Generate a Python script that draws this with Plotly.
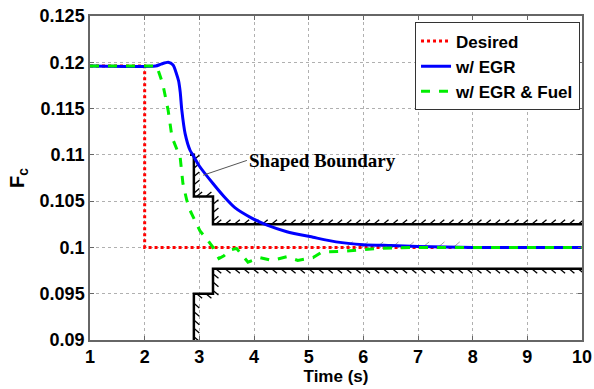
import plotly.graph_objects as go

# ---- data ----
desired_x = [1, 2, 2, 10]
desired_y = [0.1196, 0.1196, 0.1, 0.1]

egr_x = [1, 2.2, 2.3, 2.43, 2.52, 2.58, 2.62, 2.65, 2.68, 2.74, 2.83, 2.88, 3.0, 3.25, 3.45, 3.65, 3.95, 4.24, 4.6, 5.08, 5.5, 6.0, 6.5, 7.0, 7.5, 8.0, 10]
egr_y = [0.1196, 0.1196, 0.1198, 0.1200, 0.1197, 0.1188, 0.1180, 0.1168, 0.1148, 0.1123, 0.1105, 0.1100, 0.1088, 0.1069, 0.1055, 0.1043, 0.1032, 0.1024, 0.1017, 0.1011, 0.1006, 0.1003, 0.1002, 0.1001, 0.10005, 0.1, 0.1]

fuel_x = [1, 2.22, 2.33, 2.43, 2.5, 2.55, 2.6, 2.65, 2.70, 2.77, 2.83, 2.95, 3.01, 3.15, 3.25, 3.36, 3.45, 3.56, 3.68, 3.89, 4.11, 4.33, 4.6, 4.8, 5.08, 5.24, 5.7, 6.3, 7.0, 10]
fuel_y = [0.1196, 0.1196, 0.1177, 0.1148, 0.1119, 0.1112, 0.1106, 0.1097, 0.1069, 0.1051, 0.1040, 0.1026, 0.1018, 0.1008, 0.1000, 0.0988, 0.0991, 0.0997, 0.0999, 0.0984, 0.0989, 0.0986, 0.0990, 0.0986, 0.0989, 0.0995, 0.0996, 0.0999, 0.1, 0.1]

upper_x = [2.83, 2.9, 2.9, 3.25, 3.25, 10]
upper_y = [0.110, 0.110, 0.1055, 0.1055, 0.1025, 0.1025]
lower_x = [2.9, 2.9, 3.25, 3.25, 10]
lower_y = [0.09, 0.095, 0.095, 0.0977, 0.0977]

tol_x = [5.6, 7.7]
tol_y = [0.1, 0.1]

y_ticks = [0.09, 0.095, 0.1, 0.105, 0.11, 0.115, 0.12, 0.125]
y_tick_labels = ["0.09", "0.095", "0.1", "0.105", "0.11", "0.115", "0.12", "0.125"]
x_ticks = [1, 2, 3, 4, 5, 6, 7, 8, 9, 10]

# ---- hatch helpers ----
def hatch_h(x0, x1, y, step, dx, dy):
    xs, ys = [], []
    x = x0 + step * 0.3
    while x < x1 - 0.02:
        xs += [x, x + dx, None]
        ys += [y, y + dy, None]
        x += step
    return xs, ys

def hatch_v(x, y0, y1, step, dx, dy):
    xs, ys = [], []
    lo, hi = min(y0, y1), max(y0, y1)
    y = lo + step * 0.4
    while y < hi - step * 0.2:
        xs += [x, x + dx, None]
        ys += [y, y + dy, None]
        y += step
    return xs, ys

hx, hy = [], []
for i in range(len(upper_x) - 1):
    xa, xb, ya, yb = upper_x[i], upper_x[i + 1], upper_y[i], upper_y[i + 1]
    if ya == yb:
        a, b = hatch_h(xa, xb, ya, 0.17, 0.1, 0.0005)
    else:
        a, b = hatch_v(xa, ya, yb, 0.0009, 0.1, 0.0005)
    hx += a; hy += b
for i in range(len(lower_x) - 1):
    xa, xb, ya, yb = lower_x[i], lower_x[i + 1], lower_y[i], lower_y[i + 1]
    if ya == yb:
        a, b = hatch_h(xa, xb, ya, 0.17, 0.1, -0.0005)
    else:
        a, b = hatch_v(xa, ya, yb, 0.0009, 0.1, -0.0005)
    hx += a; hy += b

tx, ty = hatch_h(tol_x[0], tol_x[1], tol_y[0], 0.28, 0.12, 0.0006)

fig = go.Figure()
fig.add_trace(go.Scatter(x=hx, y=hy, mode="lines", line=dict(color="black", width=1.3),
                         showlegend=False, hoverinfo="skip"))
fig.add_trace(go.Scatter(x=tx, y=ty, mode="lines", line=dict(color="#a0a0a0", width=1),
                         showlegend=False, hoverinfo="skip"))
fig.add_trace(go.Scatter(x=upper_x, y=upper_y, mode="lines", line=dict(color="black", width=2.5),
                         showlegend=False))
fig.add_trace(go.Scatter(x=lower_x, y=lower_y, mode="lines", line=dict(color="black", width=2.5),
                         showlegend=False))
fig.add_trace(go.Scatter(x=desired_x, y=desired_y, mode="lines", name="Desired",
                         line=dict(color="#ff0000", width=3, dash="dot")))
fig.add_trace(go.Scatter(x=egr_x, y=egr_y, mode="lines", name="w/ EGR",
                         line=dict(color="#0000ff", width=3, shape="spline", smoothing=0.6)))
fig.add_trace(go.Scatter(x=fuel_x, y=fuel_y, mode="lines", name="w/ EGR & Fuel",
                         line=dict(color="#00ee00", width=3, dash="dash")))

fig.add_annotation(x=3.07, y=0.1078, ax=3.87, ay=0.1094, axref="x", ayref="y",
                   text="<b>Shaped Boundary</b>", showarrow=True, arrowhead=0,
                   arrowcolor="#555555", arrowwidth=1, xanchor="left",
                   font=dict(family="Liberation Serif", size=19, color="black"))

axis_common = dict(showgrid=True, gridcolor="#b0b0b0", griddash="dot", gridwidth=1,
                   showline=True, linecolor="#666666", linewidth=1.5, mirror="ticks",
                   ticks="inside", ticklen=4, tickcolor="#666666", zeroline=False,
                   automargin=False,
                   tickfont=dict(family="Liberation Sans", size=18, color="black", weight="bold"))

fig.update_layout(
    width=594, height=389,
    margin=dict(l=90, r=12, t=16, b=49),
    plot_bgcolor="white", paper_bgcolor="white",
    xaxis=dict(range=[1, 10], tickvals=x_ticks,
               title=dict(text="Time (s)", standoff=2,
                          font=dict(family="Liberation Sans", size=17, color="black", weight="bold")),
               **axis_common),
    yaxis=dict(range=[0.09, 0.125], tickvals=y_ticks, ticktext=y_tick_labels,
               title=dict(text="F<sub>c</sub>", standoff=10,
                          font=dict(family="Liberation Sans", size=20, color="black", weight="bold")),
               **axis_common),
    legend=dict(x=0.996, y=0.98, xanchor="right", yanchor="top",
                bgcolor="white", bordercolor="#333333", borderwidth=1,
                font=dict(family="Liberation Sans", size=17, color="black", weight="bold"),
                itemwidth=30, tracegroupgap=0),
)

fig.write_html("out.html", config={"displayModeBar": False},
               post_script="document.body.style.margin='0';document.body.style.overflow='hidden';")
